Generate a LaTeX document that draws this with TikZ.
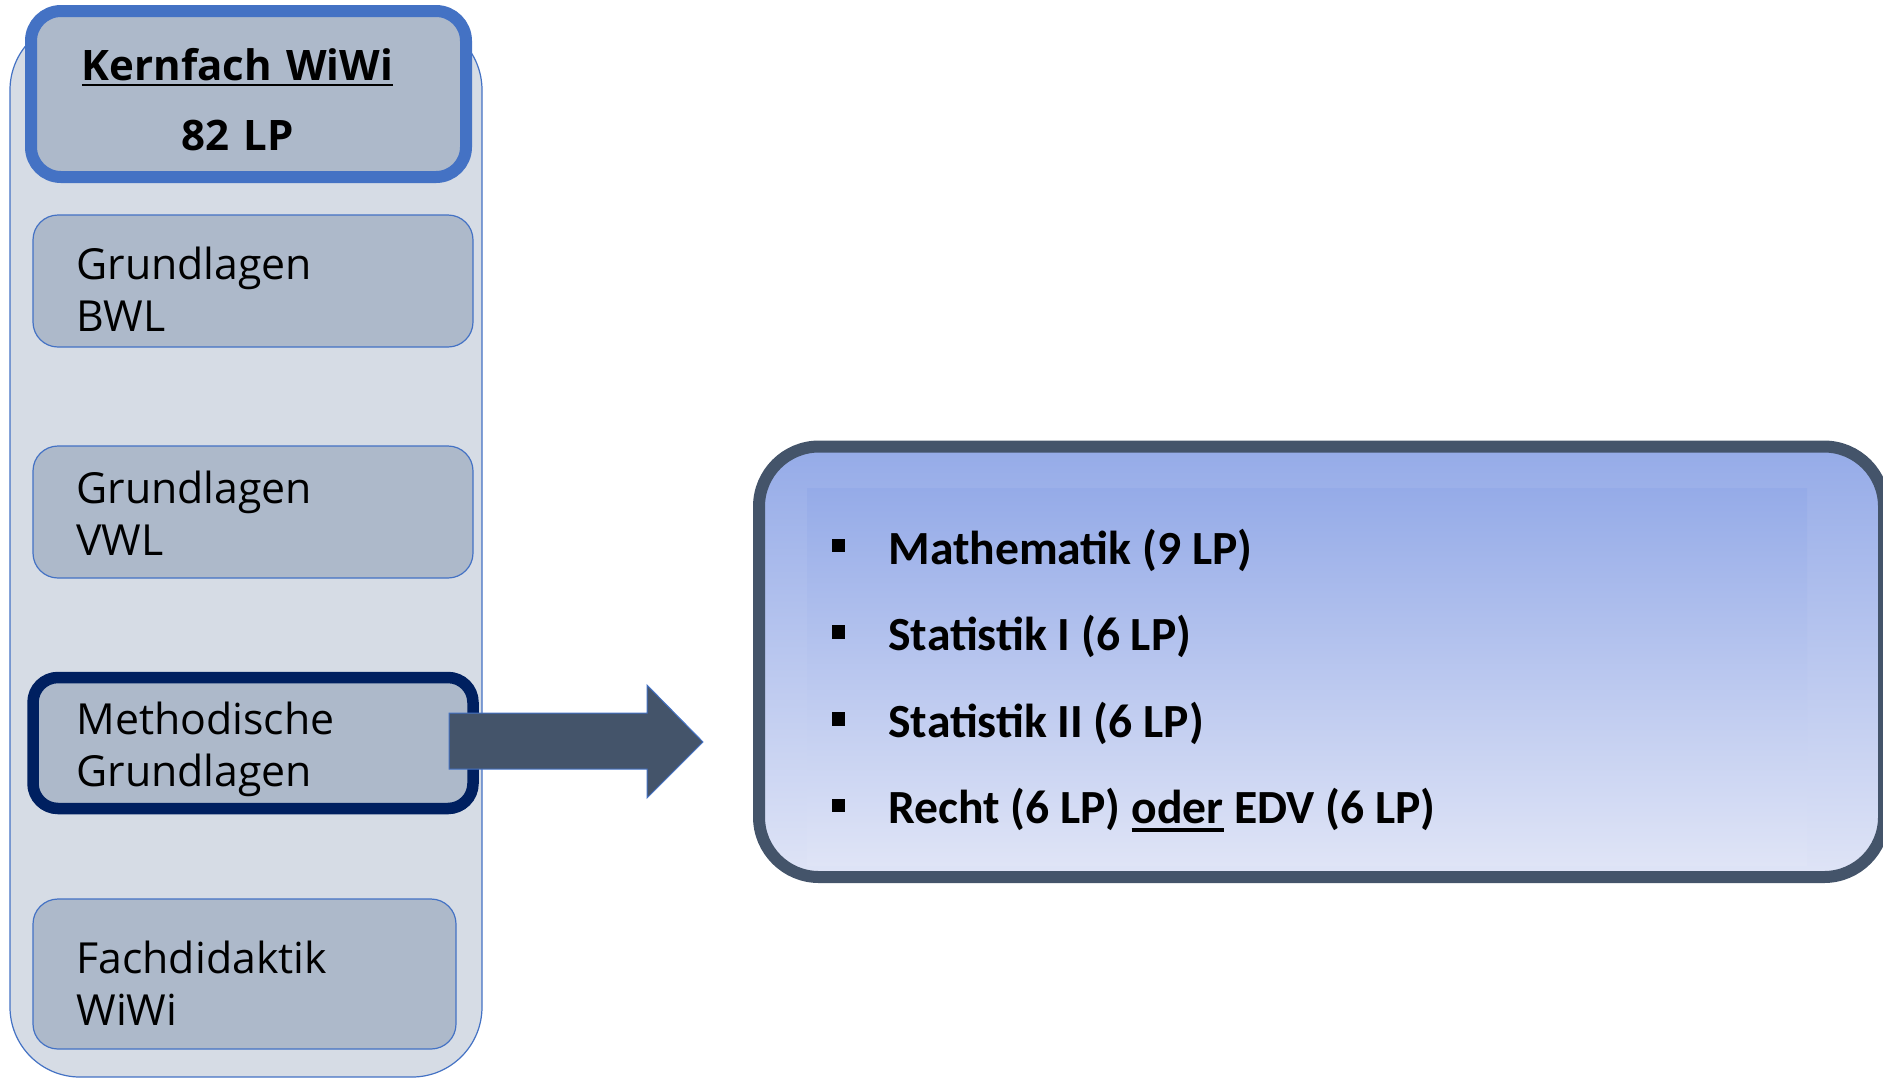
\documentclass[tikz,border=0pt]{standalone}
\usepackage{fontspec}
\setmainfont{Open Sans}
\newfontfamily\calibri{Carlito}
\usetikzlibrary{calc}

\definecolor{wiwiblue}{HTML}{4472C4}
\definecolor{navy}{HTML}{002060}
\definecolor{slate}{HTML}{44546A}
\definecolor{boxgray}{HTML}{ADB9CA}
\definecolor{panelgray}{HTML}{D6DCE5}
\definecolor{gradtop}{HTML}{95ABE8}
\definecolor{gradbot}{HTML}{DFE4F6}

% underline with own depth and thickness
\newcommand\ulword[3]{\setbox0\hbox{#3}\rlap{\rule[#1]{\wd0}{#2}}\box0\relax}

\begin{document}
\begin{tikzpicture}[x=0.5pt, y=-0.5pt,
    panel/.style={draw=wiwiblue, line width=0.6pt, fill=panelgray, rounded corners=35pt,
        minimum width=236pt, minimum height=528.5pt, inner sep=0pt, outer sep=0pt},
    modul/.style={draw=wiwiblue, line width=0.6pt, fill=boxgray, rounded corners=12.5pt,
        minimum width=220pt, minimum height=66pt, inner sep=0pt, outer sep=0pt},
    kopf/.style={modul, line width=6pt, rounded corners=15pt,
        minimum width=217.5pt, minimum height=83pt},
    auswahl/.style={modul, draw=navy, line width=5.75pt, minimum height=65.5pt},
    modultext/.style={anchor=base west, inner sep=0pt, text width=200pt, align=left,
        font=\fontsize{21.4}{26}\selectfont},
    kopftext/.style={anchor=base, inner sep=0pt, text width=210pt, align=center,
        font=\bfseries\fontsize{21}{35}\selectfont},
    liste/.style={draw=slate, line width=6pt, top color=gradtop, bottom color=gradbot,
        rounded corners=30pt, minimum width=562.5pt, minimum height=215.25pt,
        inner sep=0pt, outer sep=0pt},
    listenfeld/.style={top color=gradtop, bottom color=gradbot, minimum width=500pt,
        minimum height=188.5pt, inner sep=0pt},
    punkt/.style={fill=black, minimum size=6.75pt, inner sep=0pt},
    listentext/.style={anchor=base west, inner sep=0pt,
        font=\calibri\bfseries\fontsize{23.8}{28}\selectfont},
    pfeil/.style={fill=slate, draw=wiwiblue, line width=0.5pt}
]
\useasboundingbox (0,0) rectangle (1883,1078);

% left column
\node[panel] (kernfach) at (246,548.5) {};
\node[kopf] (kopf) at (248.5,94) {};
\node[kopftext] (kopflabel) at (237.5,80) {\ulword{-3.2pt}{1.4pt}{Kernfach WiWi}\\82 LP};

\node[modul] (bwl) at (253,281) {};
\node[modultext] (bwltext) at (76,279) {Grundlagen\\BWL};

\node[modul] (vwl) at (253,512) {};
\node[modultext] (vwltext) at (76,503) {Grundlagen\\VWL};

\node[auswahl] (meth) at (253,743) {};
\node[modultext] (methtext) at (76,734) {Methodische\\Grundlagen};

\node[modul, minimum width=211.5pt, minimum height=75pt] (fach) at (244.5,974) {};
\node[modultext] (fachtext) at (76,973) {Fachdidaktik\\WiWi};

% block arrow
\draw[pfeil] ($(meth.east)+(-24,-30)$) -- ++(198,0) -- ++(0,-28) -- ++(56,57)
    -- ++(-56,56) -- ++(0,-29) -- ++(-198,0) -- cycle;

% right box
\node[liste] (inhalt) at (1321.5,661.75) {};
\node[listenfeld] (feld) at (1307,676.5) {};

\node[punkt] (p1) at (838.5,545.5) {};
\node[punkt] (p2) at (838.5,632) {};
\node[punkt] (p3) at (838.5,719) {};
\node[punkt] (p4) at (838.5,805.5) {};

\node[listentext] (mathe) at (888,564) {Mathematik (9 LP)};
\node[listentext] (stat1) at (888,650) {Statistik I (6 LP)};
\node[listentext] (stat2) at (888,737) {Statistik II (6 LP)};
\node[listentext] (recht) at (888,823) {Recht (6 LP) \ulword{-4.3pt}{1.7pt}{oder} EDV (6 LP)};
\end{tikzpicture}
\end{document}
